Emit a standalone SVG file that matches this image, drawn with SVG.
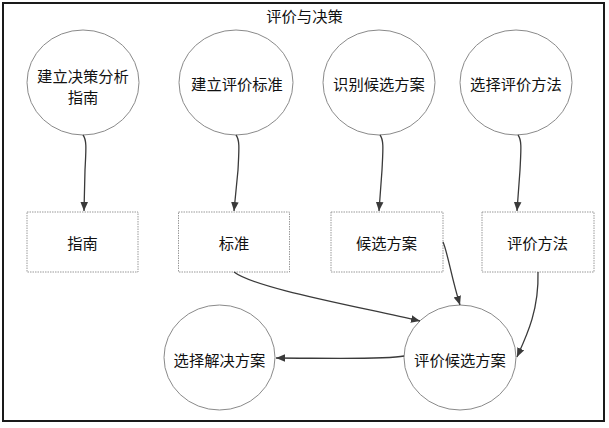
<svg xmlns="http://www.w3.org/2000/svg" width="609" height="428" viewBox="0 0 609 428">
<style>
text{font-family:"Noto Sans CJK SC","Liberation Sans",sans-serif;font-size:15.3px;fill:#111;text-anchor:middle;dominant-baseline:central}
.c{fill:#fff;stroke:#8a8a8a;stroke-width:1}
.b{fill:#fff;stroke:#999;stroke-width:1;stroke-dasharray:1.5 1}
.e{fill:none;stroke:#3a3a3a;stroke-width:1.3;marker-end:url(#ah)}
</style>
<defs>
<marker id="ah" viewBox="0 0 10 10" refX="10" refY="5" markerWidth="9" markerHeight="9" markerUnits="userSpaceOnUse" orient="auto">
<path d="M0,0.8 L10,5 L0,9.2 Z" fill="#3a3a3a"/>
</marker>
</defs>
<rect x="0" y="0" width="609" height="428" fill="#fff"/>
<rect id="frame" x="3" y="3" width="601" height="418" fill="none" stroke="#1a1a1a" stroke-width="2"/>
<text id="title" x="304.5" y="15">评价与决策</text>
<g id="n1"><ellipse class="c" cx="83" cy="82.5" rx="56" ry="52.5"/><text x="83" y="74.5">建立决策分析</text><text x="83" y="96">指南</text></g>
<g id="n2"><ellipse class="c" cx="236" cy="82.5" rx="57" ry="52.5"/><text x="237" y="83">建立评价标准</text></g>
<g id="n3"><ellipse class="c" cx="379" cy="82.5" rx="56" ry="52.5"/><text x="379" y="83">识别候选方案</text></g>
<g id="n4"><ellipse class="c" cx="516" cy="82.5" rx="56" ry="52.5"/><text x="516" y="83">选择评价方法</text></g>
<g id="b1"><rect class="b" x="27" y="212" width="111" height="60"/><text x="82.5" y="242">指南</text></g>
<g id="b2"><rect class="b" x="178.5" y="212" width="111" height="60"/><text x="234" y="242">标准</text></g>
<g id="b3"><rect class="b" x="331" y="212" width="112" height="60"/><text x="386.5" y="242">候选方案</text></g>
<g id="b4"><rect class="b" x="482" y="212" width="112" height="60"/><text x="537.5" y="242">评价方法</text></g>
<g id="n5"><ellipse class="c" cx="219.5" cy="357.5" rx="55.5" ry="52.5"/><text x="219.5" y="359">选择解决方案</text></g>
<g id="n6"><ellipse class="c" cx="460" cy="357.5" rx="56" ry="52.5"/><text x="460" y="359">评价候选方案</text></g>
<g id="connectors">
<path class="e" d="M83,135 C87,140 86,150 85,170 L84,211"/>
<path class="e" d="M236,135 C240,140 239,150 238,170 L234,211"/>
<path class="e" d="M380,135 C384,140 383,150 382,170 L379,211"/>
<path class="e" d="M518,135 C522,140 521,150 520,170 L517,211"/>
<path class="e" d="M234,272 C255,288 350,305 420,321"/>
<path class="e" d="M443,242 C447,250 452,280 460,305"/>
<path class="e" d="M538,272 C539,310 527,335 517,357"/>
<path class="e" d="M404,356 C385,360 320,358 276,358"/>
</g>
</svg>
